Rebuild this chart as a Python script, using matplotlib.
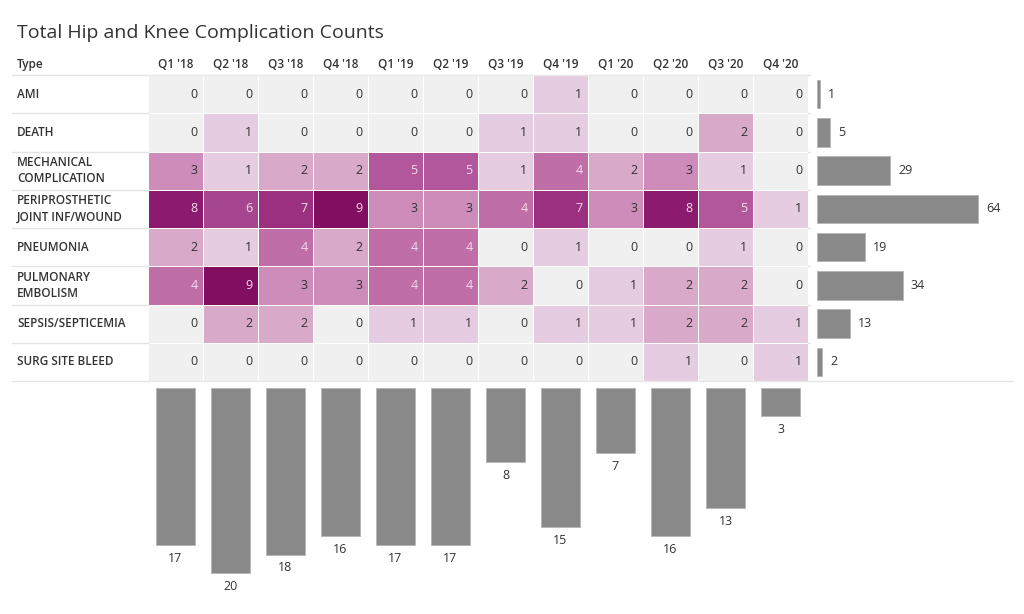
import numpy as np
import matplotlib.pyplot as plt
from matplotlib.colors import ListedColormap, BoundaryNorm
from matplotlib import transforms

plt.rcParams['font.family'] = ['Open Sans', 'DejaVu Sans']

quarters = ["Q1 '18", "Q2 '18", "Q3 '18", "Q4 '18", "Q1 '19", "Q2 '19",
            "Q3 '19", "Q4 '19", "Q1 '20", "Q2 '20", "Q3 '20", "Q4 '20"]
types = ["AMI", "DEATH", "MECHANICAL\nCOMPLICATION", "PERIPROSTHETIC\nJOINT INF/WOUND",
         "PNEUMONIA", "PULMONARY\nEMBOLISM", "SEPSIS/SEPTICEMIA", "SURG SITE BLEED"]

ami = [0, 0, 0, 0, 0, 0, 0, 1, 0, 0, 0, 0]
death = [0, 1, 0, 0, 0, 0, 1, 1, 0, 0, 2, 0]
mechanical = [3, 1, 2, 2, 5, 5, 1, 4, 2, 3, 1, 0]
periprosthetic = [8, 6, 7, 9, 3, 3, 4, 7, 3, 8, 5, 1]
pneumonia = [2, 1, 4, 2, 4, 4, 0, 1, 0, 0, 1, 0]
pulmonary = [4, 9, 3, 3, 4, 4, 2, 0, 1, 2, 2, 0]
sepsis = [0, 2, 2, 0, 1, 1, 0, 1, 1, 2, 2, 1]
bleed = [0, 0, 0, 0, 0, 0, 0, 0, 0, 1, 0, 1]

counts = np.array([ami, death, mechanical, periprosthetic,
                   pneumonia, pulmonary, sepsis, bleed])
row_totals = counts.sum(axis=1)
col_totals = counts.sum(axis=0)

# colour per count value 0..9
palette = ['#f0f0f0', '#e6cce0', '#d9a9ca', '#cd8cba', '#c06ea8',
           '#b2579c', '#a6468e', '#9b3080', '#8c1b70', '#820e62']
cmap = ListedColormap(palette)
norm = BoundaryNorm(np.arange(-0.5, 10.5, 1), cmap.N)

txt = '#333333'
bar_c = '#898989'
W, H = 1024, 614

fig = plt.figure(figsize=(10.24, 6.14), dpi=100)
fig.text(17 / W, 1 - 33 / H, 'Total Hip and Knee Complication Counts',
         fontsize=14, color=txt, va='center', ha='left')

# heatmap
ax = fig.add_axes([148 / W, 1 - 381 / H, 660 / W, 306 / H])
nr, nc = counts.shape
ax.pcolormesh(np.arange(nc + 1), np.arange(nr + 1), counts, cmap=cmap, norm=norm,
              edgecolors='white', linewidth=0.6)
ax.set_xlim(0, nc)
ax.set_ylim(nr, 0)
ax.axis('off')
for i in range(nr):
    for j in range(nc):
        v = counts[i, j]
        ax.text(j + 0.9, i + 0.5, str(v), ha='right', va='center', fontsize=9,
                color='#f2dcec' if v >= 4 else txt)
for j, q in enumerate(quarters):
    ax.text(j + 0.5, -0.27, q, ha='center', va='center', fontsize=8.5,
            fontweight='semibold', color=txt)

tr = transforms.blended_transform_factory(fig.transFigure, ax.transData)
ax.text(17 / W, -0.27, 'Type', transform=tr, fontsize=8.5, fontweight='semibold',
        color=txt, va='center')
for i, t in enumerate(types):
    ax.text(17 / W, i + 0.5, t, transform=tr, fontsize=8.5, fontweight='semibold',
            color=txt, va='center', ha='left', linespacing=1.3)
for k in range(nr + 1):
    x1 = 810 / W if k < nr else 1012 / W
    ax.plot([12 / W, 148 / W], [k, k], transform=tr, color='#e4e4e4', lw=1, clip_on=False)
    ax.plot([808 / W, x1], [k, k], transform=tr, color='#e4e4e4', lw=1, clip_on=False)
ax.plot([0, nc], [0, 0], color='#e8e8e8', lw=1, clip_on=False)
ax.plot([0, nc], [nr, nr], color='#e8e8e8', lw=1, clip_on=False)

# right bars: totals per type
axr = fig.add_axes([817 / W, 1 - 381 / H, 193 / W, 306 / H])
axr.barh(np.arange(nr) + 0.5, row_totals, height=0.74, color=bar_c,
         edgecolor='#b5b5b5', linewidth=0.6)
axr.set_ylim(nr, 0)
axr.set_xlim(0, 64 * 193 / 161)
axr.axis('off')
for i, v in enumerate(row_totals):
    axr.annotate(str(v), (v, i + 0.5), xytext=(6, 0), textcoords='offset points',
                 ha='left', va='center', fontsize=9, color=txt)

# bottom bars: totals per quarter
axb = fig.add_axes([148 / W, 1 - 588 / H, 660 / W, 200 / H])
axb.bar(np.arange(nc) + 0.5, col_totals, width=0.71, color=bar_c,
        edgecolor='#b5b5b5', linewidth=0.6)
axb.set_xlim(0, nc)
axb.set_ylim(20 * 200 / 185, 0)
axb.axis('off')
for j, v in enumerate(col_totals):
    axb.annotate(str(v), (j + 0.5, v), xytext=(0, -5), textcoords='offset points',
                 ha='center', va='top', fontsize=9, color=txt)

fig.savefig('out.png', dpi=100)
